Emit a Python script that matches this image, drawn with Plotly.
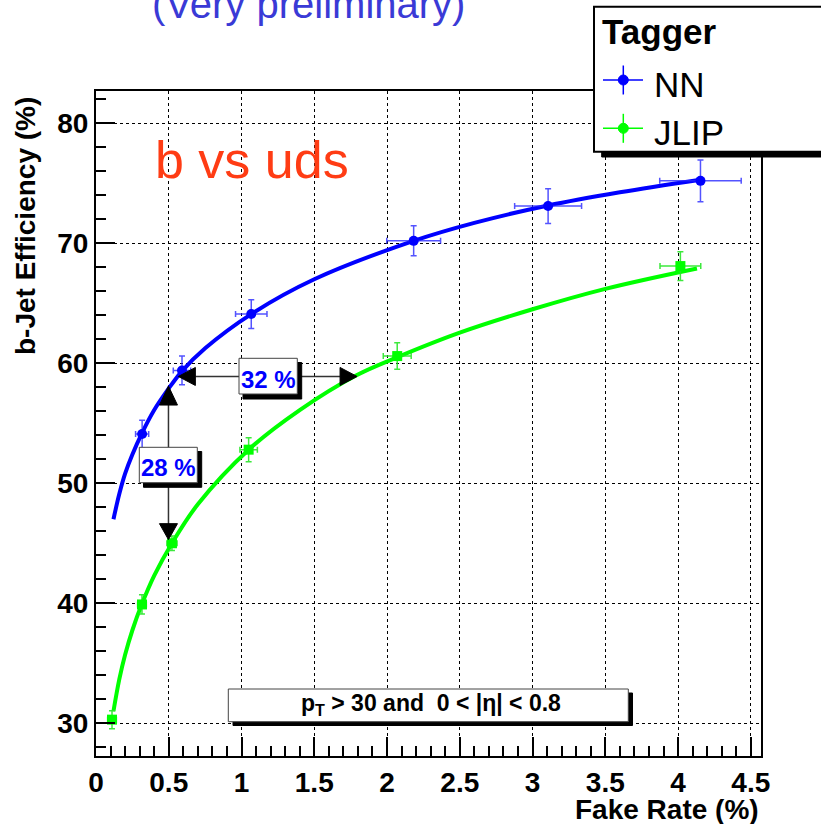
import plotly.graph_objects as go

# ---------------- data ----------------
nn_x = [0.317, 0.591, 1.067, 2.183, 3.107, 4.154]
nn_y = [54.1, 59.4, 64.1, 70.2, 73.1, 75.2]
nn_xerr = [0.045, 0.06, 0.108, 0.185, 0.23, 0.28]
nn_yerr = [1.15, 1.2, 1.2, 1.25, 1.45, 1.75]

jlip_x = [0.11, 0.316, 0.522, 1.049, 2.07, 4.016]
jlip_y = [30.3, 39.9, 45.0, 52.8, 60.6, 68.1]
jlip_xerr = [0.03, 0.03, 0.035, 0.06, 0.096, 0.14]
jlip_yerr = [0.75, 0.8, 0.6, 1.0, 1.1, 1.2]

# fitted curves
nn_fit_x = [0.12, 0.16, 0.2, 0.25, 0.317, 0.4, 0.5, 0.591, 0.75, 1.067, 1.5, 2.183, 2.6, 3.107, 3.6, 4.154]
nn_fit_y = [47.0, 49.1, 50.8, 52.4, 54.2, 56.1, 57.9, 59.35, 61.25, 64.1, 67.0, 70.2, 71.7, 73.15, 74.25, 75.3]
jlip_fit_x = [0.12, 0.16, 0.2, 0.25, 0.316, 0.4, 0.522, 0.7, 1.049, 1.4, 1.79, 2.07, 2.5, 3.0, 3.5, 4.13]
jlip_fit_y = [31.0, 33.65, 35.7, 37.75, 39.95, 42.3, 45.0, 48.25, 52.8, 56.1, 59.0, 60.5, 62.55, 64.5, 66.2, 67.9]

x_ticks = [0, 0.5, 1, 1.5, 2, 2.5, 3, 3.5, 4, 4.5]
y_ticks = [30, 40, 50, 60, 70, 80]

X_RANGE = [0, 4.570]
Y_RANGE = [27.27, 82.69]

BLUE = "#0000ff"
GREEN = "#00ff00"
FONT = "Liberation Sans"

# ---------------- layout geometry ----------------
W, H = 821, 824
ML, MR, MT, MB = 96, 60, 91, 68
PW, PH = W - ML - MR, H - MT - MB


def P(px, py):
    """page pixel -> paper coords"""
    return (px - ML) / PW, (H - MB - py) / PH


def D(x, y):
    """data -> page pixel"""
    px = ML + (x - X_RANGE[0]) / (X_RANGE[1] - X_RANGE[0]) * PW
    py = H - MB - (y - Y_RANGE[0]) / (Y_RANGE[1] - Y_RANGE[0]) * PH
    return px, py


fig = go.Figure()

fig.add_trace(go.Scatter(x=nn_fit_x, y=nn_fit_y, mode="lines", line=dict(color=BLUE, width=4, shape="spline"),
                         showlegend=False, hoverinfo="skip"))
fig.add_trace(go.Scatter(x=jlip_fit_x, y=jlip_fit_y, mode="lines", line=dict(color=GREEN, width=4, shape="spline"),
                         showlegend=False, hoverinfo="skip"))
fig.add_trace(go.Scatter(
    x=nn_x, y=nn_y, mode="markers", name="NN",
    marker=dict(symbol="circle", size=10, color=BLUE),
    error_x=dict(type="data", array=nn_xerr, color="rgba(40,40,255,0.8)", thickness=1.5, width=3),
    error_y=dict(type="data", array=nn_yerr, color="rgba(40,40,255,0.8)", thickness=1.5, width=3),
    showlegend=False))
fig.add_trace(go.Scatter(
    x=jlip_x, y=jlip_y, mode="markers", name="JLIP",
    marker=dict(symbol="square", size=10, color=GREEN),
    error_x=dict(type="data", array=jlip_xerr, color="rgba(40,230,40,0.9)", thickness=1.5, width=3),
    error_y=dict(type="data", array=jlip_yerr, color="rgba(40,230,40,0.9)", thickness=1.5, width=3),
    showlegend=False))

shapes = []
annotations = []


def rect(x0, y0, x1, y1, fill, line_color="black", lw=1):
    a = P(x0, y0)
    b = P(x1, y1)
    shapes.append(dict(type="rect", xref="paper", yref="paper", x0=a[0], y0=b[1], x1=b[0], y1=a[1],
                       fillcolor=fill, line=dict(color=line_color, width=lw), layer="above"))


def seg(x0, y0, x1, y1, color, lw):
    a = P(x0, y0)
    b = P(x1, y1)
    shapes.append(dict(type="line", xref="paper", yref="paper", x0=a[0], y0=a[1], x1=b[0], y1=b[1],
                       line=dict(color=color, width=lw), layer="above"))


def tri(pts, color="black"):
    path = ""
    for i, (px, py) in enumerate(pts):
        q = P(px, py)
        path += ("M" if i == 0 else "L") + f"{q[0]:.5f},{q[1]:.5f} "
    path += "Z"
    shapes.append(dict(type="path", xref="paper", yref="paper", path=path, fillcolor=color,
                       line=dict(color=color, width=1), layer="above"))


def text(px, py, s, size, color="black", bold=False, xanchor="center", angle=0):
    q = P(px, py)
    annotations.append(dict(xref="paper", yref="paper", x=q[0], y=q[1], text=s, showarrow=False,
                            xanchor=xanchor, yanchor="middle", textangle=angle,
                            font=dict(family=FONT, size=size, color=color, weight="bold" if bold else "normal")))


# ---- arrows ----
hx0, hy = D(0.566, 58.9)
hx1, _ = D(1.794, 58.9)
seg(hx0 + 17, hy, hx1 - 17, hy, "#333333", 1.5)
tri([(hx0, hy), (hx0 + 17, hy - 9), (hx0 + 17, hy + 9)])
tri([(hx1, hy), (hx1 - 17, hy - 9), (hx1 - 17, hy + 9)])

vx, vy0 = D(0.498, 58.1)
_, vy1 = D(0.498, 45.3)
seg(vx, vy0 + 19, vx, vy1 - 16, "#333333", 1.5)
tri([(vx, vy0), (vx - 9, vy0 + 19), (vx + 9, vy0 + 19)])
tri([(vx, vy1), (vx - 9, vy1 - 16), (vx + 9, vy1 - 16)])

# ---- percentage boxes ----
rect(243, 362.5, 301.7, 399, "black")
rect(239, 358.3, 297.3, 394, "white", "#444444", 1)
text(268.3, 379, "32 %", 24, BLUE, True)
rect(143.5, 451.5, 201.7, 487.3, "black")
rect(139.3, 447.3, 197.3, 482.7, "white", "#444444", 1)
text(168.3, 467, "28 %", 24, BLUE, True)

# ---- cut selection box ----
rect(233, 693, 632.5, 725.5, "black")
rect(228.3, 689, 628.3, 721.7, "white", "#444444", 1)
text(431, 704, "p<sub>T</sub>&nbsp;&gt; 30 and&nbsp;&nbsp;0 &lt; |η| &lt; 0.8", 23, "black", True)

# ---- legend ----
rect(601.7, 12, 840, 157, "black")
rect(594, 6.7, 840, 151.7, "white", "black", 2)
text(600, 31, "Tagger", 35, "black", True, xanchor="left")
for ly, col, lab in [(80, BLUE, "NN"), (128.3, GREEN, "JLIP")]:
    seg(603, ly, 643, ly, col, 1.5)
    seg(623.3, ly - 14.5, 623.3, ly + 14.5, col, 1.5)
    c0 = P(618.3, ly - 5)
    c1 = P(628.3, ly + 5)
    shapes.append(dict(type="circle", xref="paper", yref="paper", x0=c0[0], y0=c1[1], x1=c1[0], y1=c0[1],
                       fillcolor=col, line=dict(color=col, width=1), layer="above"))
    text(652, ly + 4.5, lab, 35, "black", False, xanchor="left")

# ---- texts ----
text(252, 160, "b vs uds", 52, "#ff3c14")
text(150, 4, "(Very preliminary)", 40, "#3a3ad6", xanchor="left")
text(25, 226, "b-Jet Efficiency (%)", 28, "black", True, angle=-90)
text(761, 809, "Fake Rate (%)", 28, "black", True, xanchor="right")

axis_common = dict(showline=True, linecolor="black", linewidth=2, mirror=True,
                   ticks="inside", ticklen=19, tickwidth=1.5, tickcolor="black",
                   showgrid=True, gridcolor="black", gridwidth=1, griddash="dot",
                   zeroline=False, tickfont=dict(family=FONT, size=28, color="black", weight="bold"))

fig.update_layout(
    width=W, height=H,
    margin=dict(l=ML, r=MR, t=MT, b=MB),
    paper_bgcolor="white", plot_bgcolor="white",
    showlegend=False,
    shapes=shapes, annotations=annotations,
    xaxis=dict(range=X_RANGE, tickvals=x_ticks, ticktext=[f"{v:g}" for v in x_ticks],
               minor=dict(ticks="inside", ticklen=10, dtick=0.1, tick0=0, tickcolor="black", tickwidth=1.5,
                          showgrid=False),
               **axis_common),
    yaxis=dict(range=Y_RANGE, tickvals=y_ticks, ticktext=[str(v) for v in y_ticks],
               minor=dict(ticks="inside", ticklen=10, dtick=2, tick0=0, tickcolor="black", tickwidth=1.5,
                          showgrid=False),
               **axis_common),
)

fig.write_html("out.html")
